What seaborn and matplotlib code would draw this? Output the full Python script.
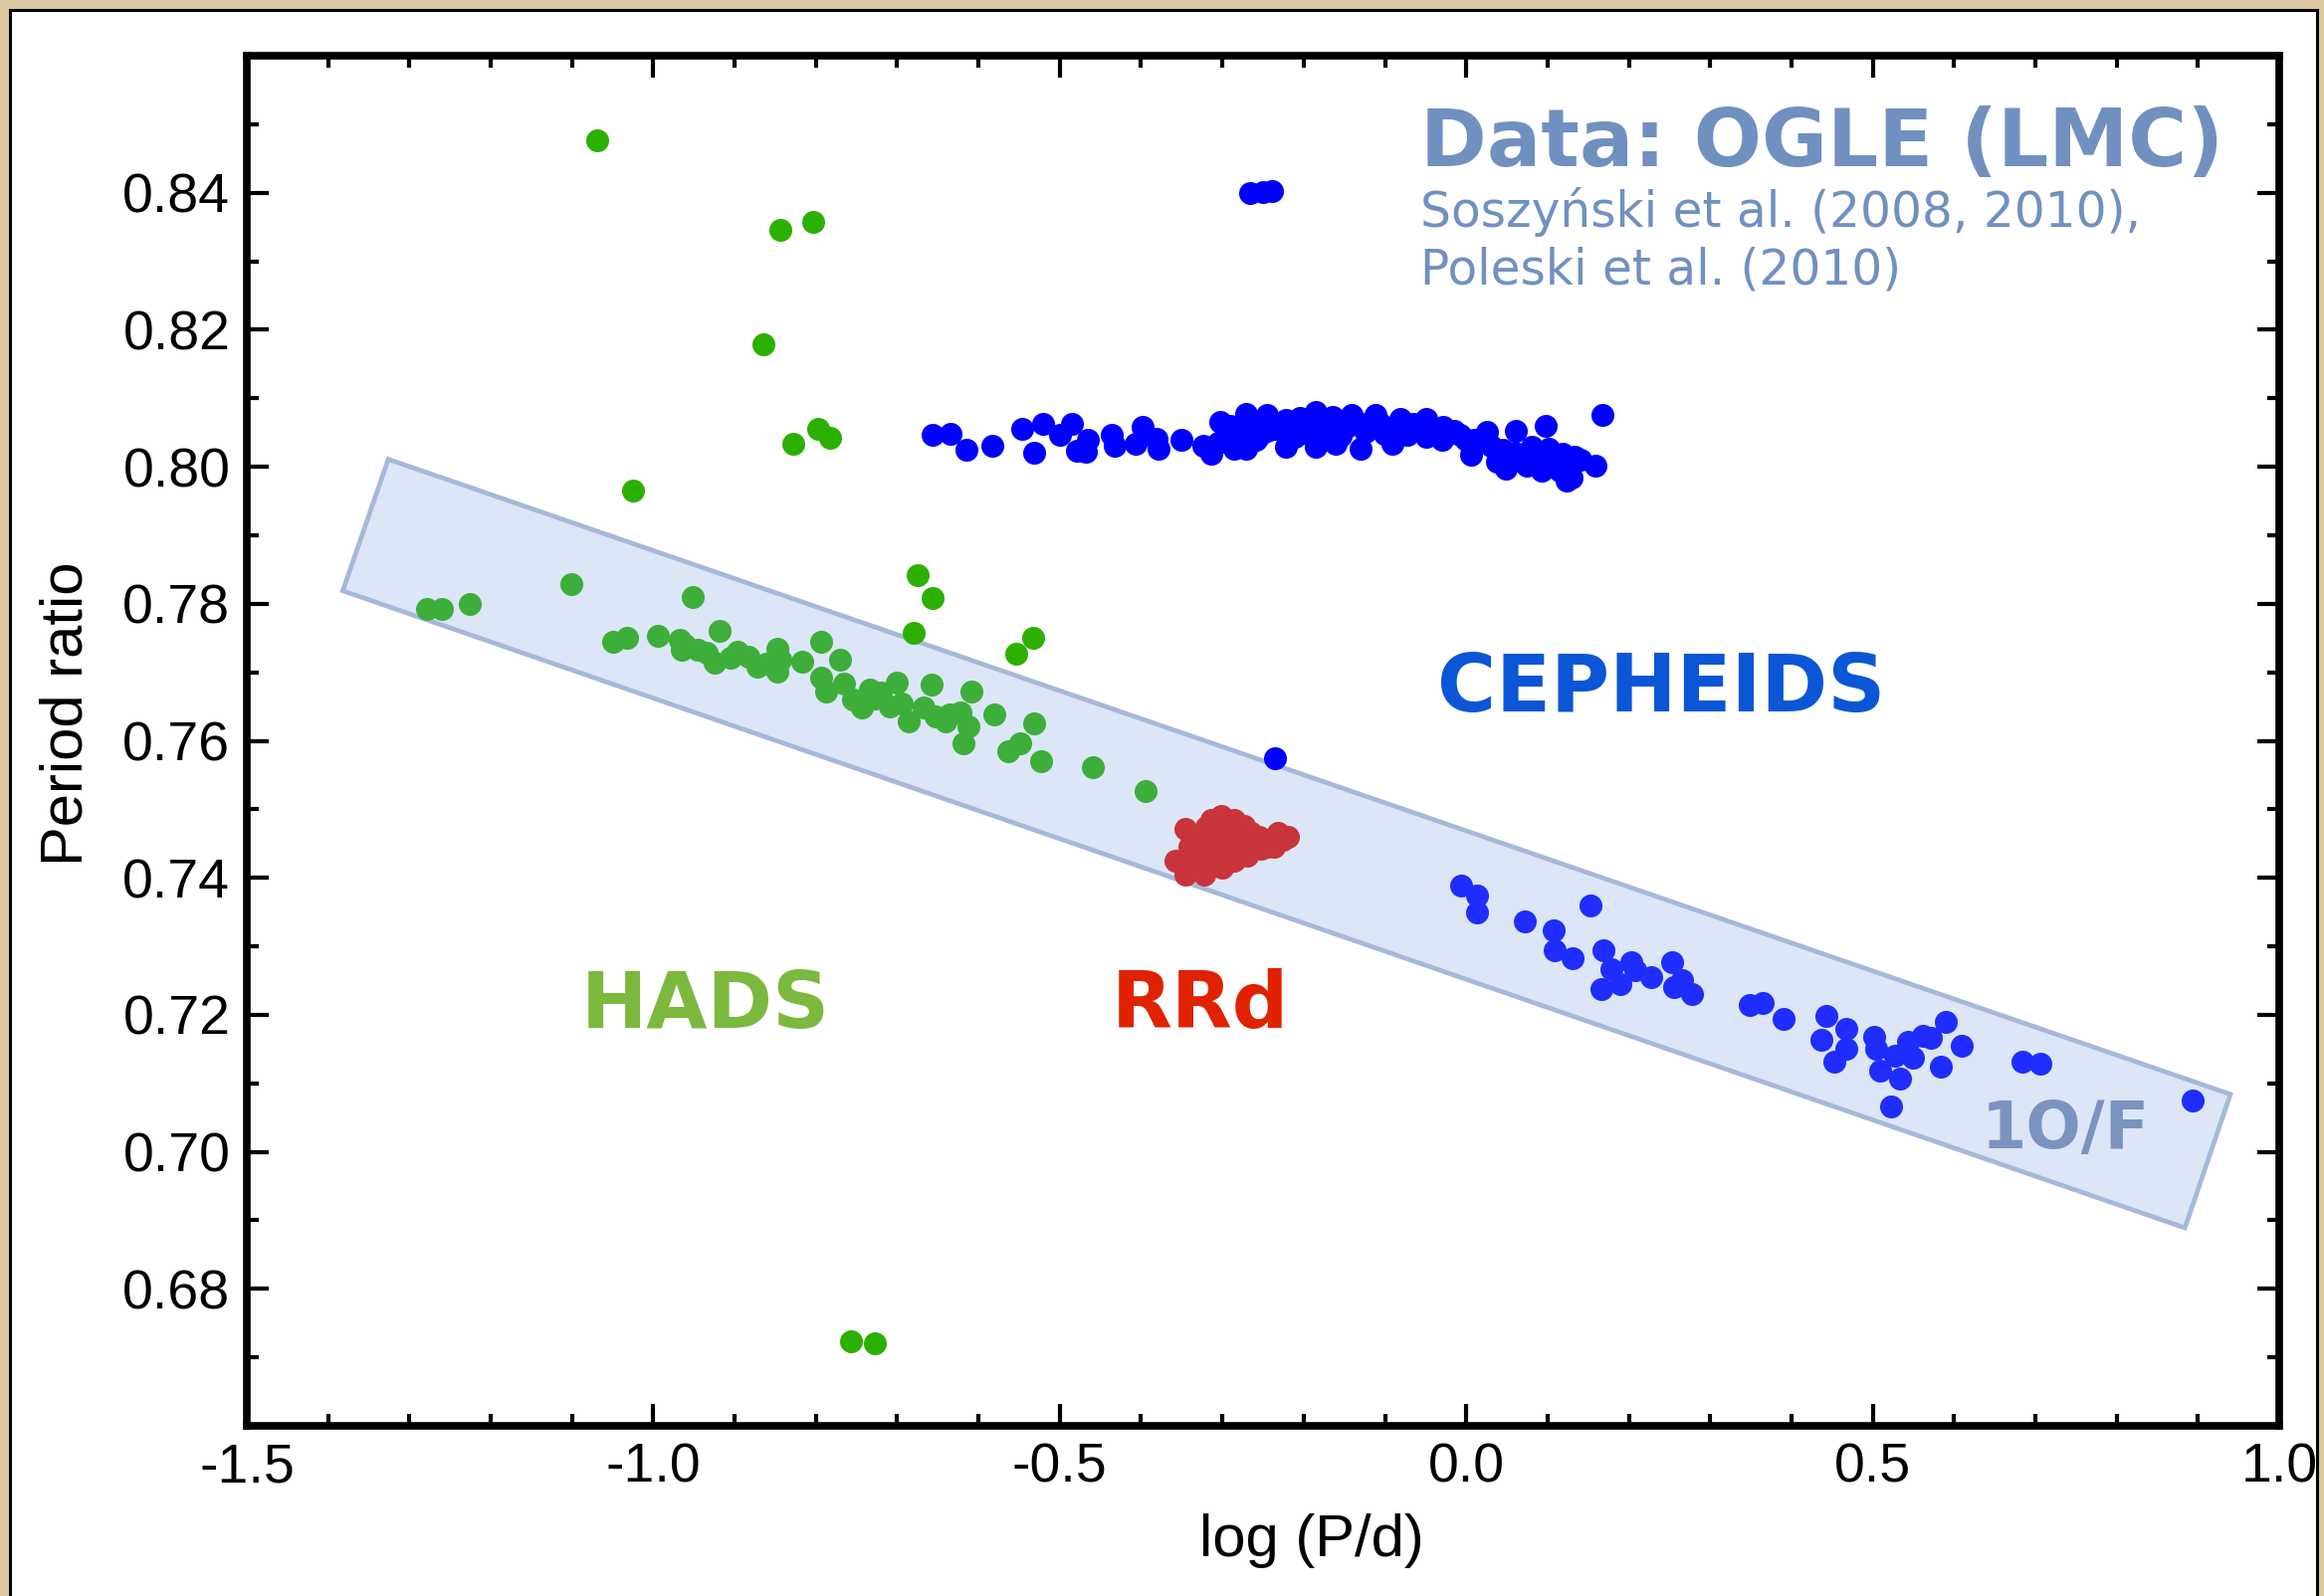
import matplotlib
matplotlib.use("Agg")
import matplotlib.pyplot as plt
from matplotlib.patches import Polygon, Rectangle
from matplotlib.ticker import MultipleLocator, FixedLocator
import seaborn as sns
import numpy as np

# ---------------- data ----------------
# HADS (delta Scuti) stars inside the 1O/F band
hads_x = [-1.278, -1.260, -1.226, -1.101, -0.951, -1.049, -1.032, -0.994, -0.967, -0.961,
          -0.965, -0.945, -0.934, -0.918, -0.925, -0.897, -0.883, -0.861, -0.847, -0.848,
          -0.844, -0.817, -0.793, -0.770, -0.793, -0.787, -0.765, -0.743, -0.734, -0.720,
          -0.709, -0.700, -0.686, -0.667, -0.658, -0.653, -0.636, -0.622, -0.613, -0.619,
          -0.609, -0.580, -0.563, -0.549, -0.532, -0.523, -0.459, -0.394, -0.905, -0.872,
          -0.755, -0.728, -0.695, -0.640]
hads_y = [0.7792, 0.7793, 0.7800, 0.7829, 0.7810, 0.7745, 0.7750, 0.7753, 0.7747, 0.7740,
          0.7733, 0.7733, 0.7728, 0.7760, 0.7714, 0.7730, 0.7723, 0.7713, 0.7735, 0.7701,
          0.7718, 0.7716, 0.7745, 0.7718, 0.7692, 0.7672, 0.7684, 0.7648, 0.7675, 0.7670,
          0.7650, 0.7685, 0.7629, 0.7648, 0.7682, 0.7636, 0.7638, 0.7641, 0.7621, 0.7597,
          0.7672, 0.7638, 0.7585, 0.7597, 0.7626, 0.7570, 0.7561, 0.7526, 0.7722, 0.7708,
          0.7660, 0.7662, 0.7655, 0.7628]
# HADS stars with other period ratios
hads_out_x = [-1.069, -0.844, -0.803, -0.865, -0.797, -0.782, -0.828, -1.025,
              -0.675, -0.656, -0.680, -0.554, -0.533, -0.757, -0.728]
hads_out_y = [0.8476, 0.8346, 0.8357, 0.8179, 0.8055, 0.8042, 0.8034, 0.7966,
              0.7842, 0.7808, 0.7758, 0.7727, 0.7750, 0.6724, 0.6720]
# RRd stars
rrd_x = [-0.345, -0.351, -0.345, -0.322, -0.330, -0.314, -0.302, -0.285, -0.273, -0.294,
         -0.306, -0.290, -0.269, -0.261, -0.245, -0.232, -0.226, -0.236, -0.253, -0.298,
         -0.318, -0.281, -0.335, -0.310, -0.265, -0.358, -0.220, -0.340, -0.330, -0.320,
         -0.305, -0.290, -0.280, -0.270, -0.255, -0.245, -0.300, -0.285, -0.315, -0.325,
         -0.340]
rrd_y = [0.7471, 0.7420, 0.7405, 0.7405, 0.7437, 0.7485, 0.7490, 0.7485, 0.7476, 0.7422,
         0.7446, 0.7456, 0.7432, 0.7451, 0.7456, 0.7466, 0.7456, 0.7446, 0.7442, 0.7471,
         0.7461, 0.7437, 0.7415, 0.7427, 0.7466, 0.7425, 0.7460, 0.7445, 0.7460, 0.7475,
         0.7480, 0.7475, 0.7465, 0.7455, 0.7460, 0.7445, 0.7415, 0.7425, 0.7430, 0.7420,
         0.7410]
# Cepheids, 1O/2O (upper sequence) plus a few odd ones
ceph_up_x = [-0.656, -0.634, -0.615, -0.583, -0.546, -0.531, -0.521, -0.500, -0.485, -0.479,
             -0.465, -0.468, -0.436, -0.433, -0.407, -0.398, -0.381, -0.378, -0.350, -0.323,
             -0.314, -0.303, -0.297, -0.286, -0.271, -0.271, -0.263, -0.245, -0.245, -0.222,
             -0.222, -0.211, -0.205, -0.185, -0.185, -0.182, -0.164, -0.161, -0.147, -0.141,
             -0.130, -0.124, -0.112, -0.101, -0.091, -0.081, -0.072, -0.049, -0.049, -0.029,
             -0.008, 0.006, 0.026, 0.038, 0.049, 0.061, 0.075, 0.080, 0.093, 0.098,
             0.101, 0.119, 0.124, 0.133, 0.130, 0.159, 0.168, -0.266, -0.250, -0.239,
             -0.235, -0.290, -0.258, -0.232, -0.195, -0.172, -0.120, -0.060, -0.020, 0.010,
             -0.290, -0.270, -0.255, -0.235, -0.215, -0.200, -0.190, -0.175, -0.155, -0.135,
             -0.118, -0.105, -0.085, -0.065, -0.040, -0.030, -0.015, 0.000, 0.015, 0.030,
             0.045, 0.060, 0.085, 0.110, 0.140, 0.115, -0.305]
ceph_up_y = [0.8046, 0.8048, 0.8025, 0.8030, 0.8055, 0.8020, 0.8063, 0.8046, 0.8063, 0.8024,
             0.8039, 0.8022, 0.8046, 0.8031, 0.8034, 0.8058, 0.8041, 0.8026, 0.8039, 0.8031,
             0.8019, 0.8065, 0.8043, 0.8026, 0.8077, 0.8027, 0.8058, 0.8075, 0.8053, 0.8029,
             0.8068, 0.8043, 0.8072, 0.8080, 0.8029, 0.8053, 0.8073, 0.8034, 0.8058, 0.8075,
             0.8026, 0.8051, 0.8075, 0.8048, 0.8034, 0.8070, 0.8046, 0.8070, 0.8043, 0.8058,
             0.8046, 0.8017, 0.8051, 0.8007, 0.7997, 0.8053, 0.8002, 0.8029, 0.7995, 0.8060,
             0.8026, 0.8019, 0.7980, 0.8015, 0.7984, 0.8002, 0.8075, 0.8400, 0.8401, 0.8402,
             0.7574, 0.8050, 0.8040, 0.8062, 0.8062, 0.8040, 0.8062, 0.8058, 0.8050, 0.8040,
             0.8060, 0.8050, 0.8045, 0.8055, 0.8060, 0.8050, 0.8065, 0.8058, 0.8045, 0.8065,
             0.8058, 0.8062, 0.8055, 0.8062, 0.8055, 0.8040, 0.8052, 0.8040, 0.8035, 0.8030,
             0.8025, 0.8020, 0.8015, 0.8005, 0.8010, 0.7995, 0.8035]
# Cepheids, 1O/F (in the band)
ceph_lo_x = [-0.006, 0.013, 0.013, 0.072, 0.153, 0.107, 0.109, 0.131, 0.169, 0.178,
             0.166, 0.190, 0.203, 0.208, 0.228, 0.253, 0.256, 0.265, 0.278, 0.349,
             0.365, 0.390, 0.443, 0.468, 0.437, 0.468, 0.453, 0.502, 0.504, 0.509,
             0.528, 0.534, 0.543, 0.549, 0.562, 0.572, 0.590, 0.584, 0.609, 0.522,
             0.684, 0.706, 0.894]
ceph_lo_y = [0.7388, 0.7374, 0.7350, 0.7337, 0.7359, 0.7323, 0.7294, 0.7282, 0.7294, 0.7267,
             0.7238, 0.7245, 0.7277, 0.7265, 0.7255, 0.7277, 0.7240, 0.7250, 0.7231, 0.7214,
             0.7218, 0.7194, 0.7199, 0.7180, 0.7163, 0.7151, 0.7131, 0.7168, 0.7150, 0.7119,
             0.7141, 0.7107, 0.7160, 0.7138, 0.7170, 0.7167, 0.7189, 0.7124, 0.7155, 0.7066,
             0.7131, 0.7129, 0.7075]
# 1O/F band corners
band_x = [-1.326, -1.382, 0.884, 0.940]
band_y = [0.8011, 0.7819, 0.6889, 0.7084]

x_major = [-1.5, -1.0, -0.5, 0.0, 0.5, 1.0]
y_major = [0.68, 0.70, 0.72, 0.74, 0.76, 0.78, 0.80, 0.82, 0.84]

# ---------------- figure ----------------
W, H = 2335, 1604
DPI = 100
fig = plt.figure(figsize=(W / DPI, H / DPI), dpi=DPI)
fig.patch.set_facecolor('#dcc9a2')
fig.patches.append(Rectangle((10 / W, -0.01), (2328 - 10) / W, 1 - 10 / H + 0.01,
                             transform=fig.transFigure, facecolor='white',
                             edgecolor='black', linewidth=2.2, zorder=-5))

ax = fig.add_axes([248 / W, 1 - 1433 / H, (2290 - 248) / W, (1433 - 56) / H])
ax.set_facecolor('white')

ax.add_patch(Polygon(list(zip(band_x, band_y)), closed=True, facecolor='#dce6f7',
                     edgecolor='#a5b8da', linewidth=3.4, zorder=1))

S = 275
sns.scatterplot(x=hads_x, y=hads_y, ax=ax, color='#3dae3a', s=S, linewidth=0, zorder=3)
sns.scatterplot(x=hads_out_x, y=hads_out_y, ax=ax, color='#2bb000', s=S, linewidth=0, zorder=3)
sns.scatterplot(x=rrd_x, y=rrd_y, ax=ax, color='#c8343a', s=S, linewidth=0, zorder=3)
sns.scatterplot(x=ceph_up_x, y=ceph_up_y, ax=ax, color='#0000ff', s=S, linewidth=0, zorder=3)
sns.scatterplot(x=ceph_lo_x, y=ceph_lo_y, ax=ax, color='#1f2dff', s=S, linewidth=0, zorder=3)

ax.set_xlim(-1.5, 1.0)
ax.set_ylim(0.66, 0.86)
ax.xaxis.set_major_locator(FixedLocator(x_major))
ax.xaxis.set_minor_locator(MultipleLocator(0.1))
ax.yaxis.set_major_locator(FixedLocator(y_major))
ax.yaxis.set_minor_locator(MultipleLocator(0.01))
ax.set_xticklabels([f"{v:.1f}" for v in x_major])
ax.set_yticklabels([f"{v:.2f}" for v in y_major])

for sp in ax.spines.values():
    sp.set_linewidth(5.5)
    sp.set_color('black')
ax.tick_params(which='both', direction='in', top=True, right=True, color='black')
ax.tick_params(which='major', length=16, width=3.0, labelsize=40, pad=12)
ax.tick_params(which='minor', length=8.5, width=3.0)
for lab in ax.get_xticklabels() + ax.get_yticklabels():
    lab.set_fontfamily('Liberation Sans')

ax.set_xlabel('log (P/d)', fontsize=43, fontfamily='Liberation Sans')
ax.set_ylabel('Period ratio', fontsize=43, fontfamily='Liberation Sans')
ax.xaxis.label.set_va('center')
ax.yaxis.label.set_va('center')
ax.xaxis.set_label_coords((1318 - 248) / 2042, -(1549 - 1433) / 1377)
ax.yaxis.set_label_coords((67 - 248) / 2042, 1 - (717 - 56) / 1377)

def fx(px):
    return px / W

def fy(py):
    return 1 - py / H

title_c = '#7090c0'
fig.text(fx(1427), fy(167), 'Data: OGLE (LMC)', fontsize=58, fontweight='bold',
         color=title_c, family='DejaVu Sans', va='baseline', ha='left')
fig.text(fx(1427), fy(228), 'Soszyński et al. (2008, 2010),', fontsize=35,
         color=title_c, family='DejaVu Sans', va='baseline', ha='left')
fig.text(fx(1427), fy(286), 'Poleski et al. (2010)', fontsize=35,
         color=title_c, family='DejaVu Sans', va='baseline', ha='left')
fig.text(fx(1444), fy(715), 'CEPHEIDS', fontsize=58, fontweight='bold',
         color='#0a56d6', family='DejaVu Sans', va='baseline', ha='left')
fig.text(fx(584), fy(1033), 'HADS', fontsize=57, fontweight='bold',
         color='#7ab93d', family='DejaVu Sans', va='baseline', ha='left')
fig.text(fx(1117), fy(1033), 'RRd', fontsize=57, fontweight='bold',
         color='#e02200', family='DejaVu Sans', va='baseline', ha='left')
fig.text(fx(1991), fy(1154), '1O/F', fontsize=47, fontweight='bold',
         color='#7b93bf', family='DejaVu Sans', va='baseline', ha='left')

fig.savefig('out.png', dpi=DPI, facecolor=fig.get_facecolor())
